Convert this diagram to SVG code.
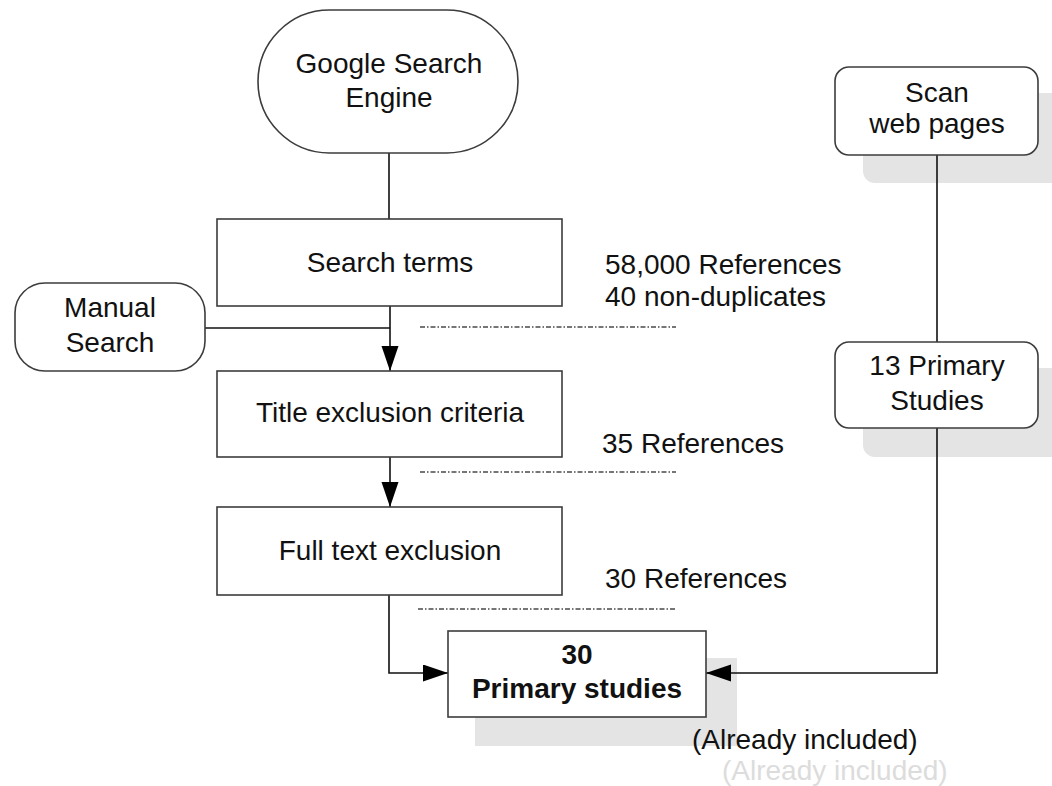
<svg xmlns="http://www.w3.org/2000/svg" width="1052" height="786" viewBox="0 0 1052 786">
  <style>
    .node { fill: #ffffff; stroke: #3c3c3c; stroke-width: 1.6; }
    .shadow { fill: #e4e4e4; stroke: none; }
    .lbl { font-family: "Liberation Sans", Arial, sans-serif; font-size: 28px; fill: #111111; }
    .mid { text-anchor: middle; }
    .bold { font-weight: bold; }
    .ghost { fill: #dcdcdc; }
    .wire { fill: none; stroke: #111111; stroke-width: 1.6; }
    .sep { fill: none; stroke: #4a4a4a; stroke-width: 1.3; stroke-dasharray: 5 2 1.5 2; }
  </style>
  <defs>
    <marker id="arrow" markerUnits="userSpaceOnUse" markerWidth="26" markerHeight="18" refX="25" refY="8.5" orient="auto">
      <path d="M0,0 L25,8.5 L0,17 z" fill="#000000"/>
    </marker>
  </defs>

  <rect width="1052" height="786" fill="#ffffff"/>

  <!-- drop shadows -->
  <g id="shadows">
    <rect class="shadow" x="863" y="93" width="200" height="90" rx="12"/>
    <rect class="shadow" x="863" y="368" width="200" height="89" rx="12"/>
    <rect class="shadow" x="475" y="658" width="262" height="88"/>
  </g>

  <!-- dash-dot separators -->
  <g id="separators">
    <line class="sep" x1="420" y1="327" x2="676" y2="327"/>
    <line class="sep" x1="420" y1="472" x2="676" y2="472"/>
    <line class="sep" x1="418" y1="609" x2="676" y2="609"/>
  </g>

  <!-- connectors -->
  <g id="connectors">
    <line class="wire" x1="389" y1="153" x2="389" y2="219"/>
    <line class="wire" x1="390" y1="306" x2="390" y2="371" marker-end="url(#arrow)"/>
    <line class="wire" x1="205" y1="328" x2="390" y2="328"/>
    <line class="wire" x1="390" y1="457" x2="390" y2="507" marker-end="url(#arrow)"/>
    <polyline class="wire" points="389,595 389,673 448,673" marker-end="url(#arrow)"/>
    <line class="wire" x1="937" y1="155" x2="937" y2="342"/>
    <polyline class="wire" points="937,428 937,673 706,673" marker-end="url(#arrow)"/>
  </g>

  <g id="google">
    <rect class="node" x="258" y="10" width="260" height="143" rx="71.5" ry="71.5"/>
    <text class="lbl mid" x="389" y="73">Google Search</text>
    <text class="lbl mid" x="389" y="107">Engine</text>
  </g>

  <g id="search-terms">
    <rect class="node" x="217" y="219" width="345" height="87"/>
    <text class="lbl mid" x="390" y="272">Search terms</text>
  </g>

  <g id="manual-search">
    <rect class="node" x="15" y="283" width="190" height="88" rx="30" ry="30"/>
    <text class="lbl mid" x="110" y="317">Manual</text>
    <text class="lbl mid" x="110" y="352">Search</text>
  </g>

  <g id="title-exclusion">
    <rect class="node" x="217" y="371" width="345" height="86"/>
    <text class="lbl mid" x="390" y="422">Title exclusion criteria</text>
  </g>

  <g id="fulltext-exclusion">
    <rect class="node" x="217" y="507" width="345" height="88"/>
    <text class="lbl mid" x="390" y="560">Full text exclusion</text>
  </g>

  <g id="primary-studies">
    <rect class="node" x="448" y="631" width="258" height="86"/>
    <text class="lbl mid bold" x="577" y="664">30</text>
    <text class="lbl mid bold" x="577" y="698">Primary studies</text>
  </g>

  <g id="scan-web">
    <rect class="node" x="835" y="67" width="203" height="88" rx="14" ry="14"/>
    <text class="lbl mid" x="937" y="102">Scan</text>
    <text class="lbl mid" x="937" y="133">web pages</text>
  </g>

  <g id="thirteen-studies">
    <rect class="node" x="835" y="342" width="203" height="86" rx="14" ry="14"/>
    <text class="lbl mid" x="937" y="375">13 Primary</text>
    <text class="lbl mid" x="937" y="410">Studies</text>
  </g>

  <!-- counts beside the flow -->
  <g id="counts">
    <text class="lbl" x="605" y="274">58,000 References</text>
    <text class="lbl" x="605" y="306">40 non-duplicates</text>
    <text class="lbl" x="602" y="453">35 References</text>
    <text class="lbl" x="605" y="588">30 References</text>
    <text class="lbl" x="692" y="749">(Already included)</text>
    <text class="lbl ghost" x="722" y="780">(Already included)</text>
  </g>
</svg>
